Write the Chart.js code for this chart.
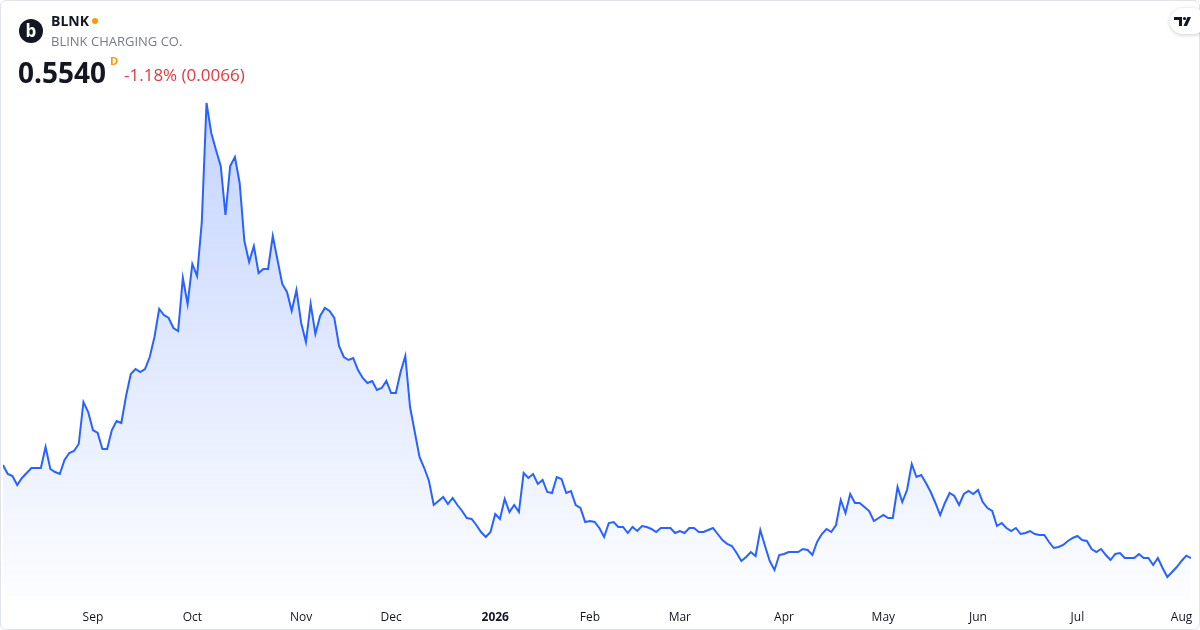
<!DOCTYPE html>
<html>
<head>
<meta charset="utf-8">
<script src="https://cdn.jsdelivr.net/npm/chart.js@4.4.1/dist/chart.umd.min.js"></script>
<style>
  html, body { margin: 0; padding: 0; background: #fff; }
  body { width: 1200px; height: 630px; position: relative; overflow: hidden; font-family: "Open Sans", sans-serif; }
  #frame { position: absolute; left: 0; top: 0; width: 1198px; height: 628px; border: 1px solid #e0e3eb; border-radius: 6px; }
  #chart { position: absolute; left: 0; top: 0; }
  .logo { position: absolute; left: 19px; top: 19px; width: 24px; height: 24px; border-radius: 50%; background: #131722; color: #fff; font: bold 17px "Open Sans"; line-height: 23px; text-align: center; }
  .sym { position: absolute; left: 51px; top: 11px; font: bold 14px "Open Sans"; color: #131722; }
  .dot { position: absolute; left: 92px; top: 18px; width: 6px; height: 6px; border-radius: 50%; background: #ff9800; }
  .name { position: absolute; left: 51px; top: 32px; font: 13px "Open Sans"; color: #787b86; }
  .price { position: absolute; left: 18px; top: 53px; font: bold 28px "Open Sans"; color: #131722; }
  .dflag { position: absolute; left: 110px; top: 53px; font: bold 11px "Open Sans"; color: #ff9800; }
  .chg { position: absolute; left: 124px; top: 63px; font: 17px "Open Sans"; color: #e03a45; }
  .tv { position: absolute; left: 1170px; top: 8px; width: 36px; height: 26px; border-radius: 13px; background: #fff; box-shadow: 0 1px 4px rgba(0,0,0,0.2); }
</style>
</head>
<body>
<canvas id="chart" width="1200" height="630"></canvas>
<div id="frame"></div>
<div class="logo">b</div>
<div class="sym">BLNK</div>
<div class="dot"></div>
<div class="name">BLINK CHARGING CO.</div>
<div class="price">0.5540</div>
<div class="dflag">D</div>
<div class="chg">-1.18% (0.0066)</div>
<div class="tv">
  <svg width="36" height="26" viewBox="0 0 36 26">
    <path d="M4 9 H12 V18 H9 V12 H4 Z" fill="#131722"/>
    <circle cx="14.5" cy="10.5" r="1.6" fill="#131722"/>
    <path d="M17.5 9 H21 L17 18 H13.5 Z" fill="#131722"/>
  </svg>
</div>
<script>
// daily closes, Aug 2025 - Aug 2026
const closes = [
  0.833, 0.806, 0.800, 0.773, 0.794, 0.809, 0.824, 0.824, 0.824, 0.887,
  0.821, 0.812, 0.806, 0.848, 0.869, 0.875, 0.896, 1.022, 0.992, 0.938,
  0.929, 0.881, 0.881, 0.938, 0.965, 0.959, 1.040, 1.106, 1.121, 1.112,
  1.121, 1.157, 1.217, 1.301, 1.283, 1.274, 1.244, 1.235, 1.394, 1.316,
  1.436, 1.400, 1.562, 1.919, 1.829, 1.778, 1.730, 1.583, 1.730, 1.757,
  1.679, 1.505, 1.442, 1.490, 1.409, 1.421, 1.421, 1.520, 1.448, 1.376,
  1.352, 1.295, 1.358, 1.259, 1.202, 1.316, 1.226, 1.280, 1.304, 1.295,
  1.274, 1.190, 1.157, 1.148, 1.154, 1.118, 1.094, 1.079, 1.085, 1.058,
  1.064, 1.085, 1.049, 1.049, 1.112, 1.160, 1.007, 0.932, 0.857,
  0.824, 0.785, 0.713, 0.725, 0.737, 0.716, 0.734, 0.713, 0.695, 0.674,
  0.671, 0.653, 0.632, 0.617, 0.632, 0.686, 0.671, 0.731, 0.692, 0.713,
  0.692, 0.809, 0.794, 0.806, 0.776, 0.788, 0.752, 0.749, 0.797, 0.791,
  0.749, 0.755, 0.713, 0.704, 0.662, 0.665, 0.662, 0.644, 0.617, 0.659,
  0.662, 0.647, 0.647, 0.629, 0.647, 0.635, 0.650, 0.647, 0.641, 0.632,
  0.644, 0.644, 0.644, 0.629, 0.635, 0.629, 0.644, 0.644, 0.632, 0.632,
  0.638, 0.644, 0.626, 0.608, 0.596, 0.590, 0.569, 0.545, 0.557, 0.572,
  0.560, 0.638, 0.590, 0.545, 0.518, 0.563, 0.566, 0.572, 0.572, 0.572,
  0.581, 0.578, 0.563, 0.602, 0.626, 0.641, 0.632, 0.653, 0.728, 0.689,
  0.746, 0.719, 0.719, 0.707, 0.695, 0.665, 0.674, 0.683, 0.674, 0.674,
  0.767, 0.722, 0.758, 0.836, 0.797, 0.803, 0.779, 0.752, 0.719, 0.683,
  0.719, 0.749, 0.740, 0.713, 0.746, 0.755, 0.746, 0.758, 0.722, 0.704,
  0.695, 0.650, 0.659, 0.644, 0.635, 0.644, 0.626, 0.629, 0.635, 0.626,
  0.623, 0.623, 0.602, 0.584, 0.587, 0.593, 0.605, 0.614, 0.620, 0.608,
  0.605, 0.581, 0.572, 0.581, 0.563, 0.548, 0.566, 0.569, 0.554, 0.554,
  0.554, 0.566, 0.554, 0.554, 0.533, 0.554, 0.524, 0.497, 0.512, 0.527,
  0.545, 0.561, 0.554
];

// first trading day of each month (index into closes) and its label
const monthIdx = [19, 40, 63, 82, 104, 124, 143, 165, 186, 206, 227, 249];
const monthLabels = ["Sep", "Oct", "Nov", "Dec", "2026", "Feb", "Mar", "Apr", "May", "Jun", "Jul", "Aug"];

const points = closes.map((v, i) => ({ x: i, y: v }));

new Chart(document.getElementById("chart"), {
  type: "line",
  data: {
    datasets: [{
      data: points,
      borderColor: "#2962ff",
      borderWidth: 2,
      pointRadius: 0,
      tension: 0,
      fill: "start",
      backgroundColor: (ctx) => {
        const area = ctx.chart.chartArea;
        if (!area) return "rgba(41,98,255,0.1)";
        const g = ctx.chart.ctx.createLinearGradient(0, area.top, 0, area.bottom);
        g.addColorStop(0, "rgba(41,98,255,0.28)");
        g.addColorStop(1, "rgba(41,98,255,0.01)");
        return g;
      }
    }]
  },
  options: {
    responsive: false,
    animation: false,
    layout: { padding: { top: 90, left: 3, right: 9, bottom: 0 } },
    plugins: { legend: { display: false }, tooltip: { enabled: false } },
    scales: {
      x: {
        type: "linear",
        min: 0,
        max: closes.length - 1,
        grid: { display: false, drawTicks: false },
        border: { display: false },
        afterBuildTicks: (scale) => {
          scale.ticks = monthIdx.map(v => ({ value: v }));
        },
        afterFit: (scale) => {
          scale.height = 30;
          scale.paddingLeft = 0;
          scale.paddingRight = 0;
        },
        ticks: {
          autoSkip: false,
          maxRotation: 0,
          padding: 10,
          color: "#131722",
          font: (c) => ({ family: "Open Sans", size: 12, weight: c.tick && monthLabels[monthIdx.indexOf(c.tick.value)] === "2026" ? "bold" : "normal" }),
          callback: (v) => monthLabels[monthIdx.indexOf(v)]
        }
      },
      y: {
        display: false,
        min: 0.428,
        max: 1.958
      }
    }
  }
});
</script>
</body>
</html>
